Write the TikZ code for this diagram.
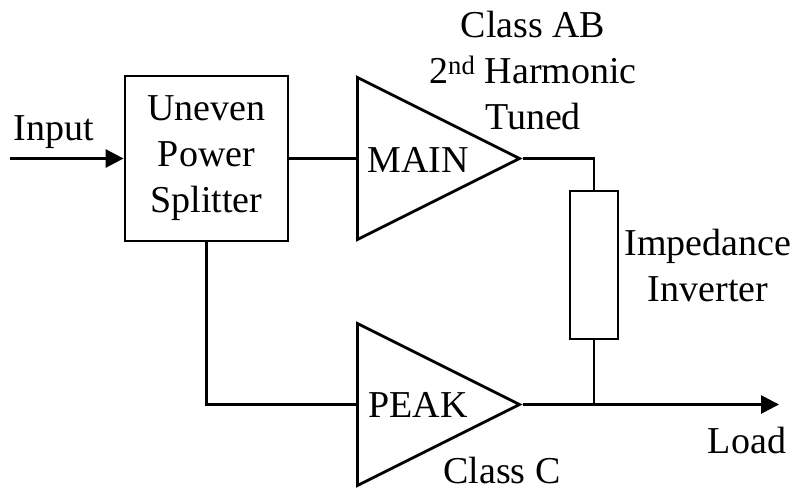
\documentclass[tikz,border=0pt]{standalone}
\usepackage{fontspec}
\setmainfont{Liberation Serif}
\usetikzlibrary{positioning, shapes.geometric, arrows.meta}

\begin{document}
\begin{tikzpicture}[
      x=1pt, y=-1pt,
      every node/.style={font=\fontsize{38}{46}\selectfont},
      box/.style={draw, line width=2.8pt, align=center, minimum width=163pt, minimum height=165pt, inner sep=0pt},
      amp/.style={draw, line width=2.8pt, isosceles triangle, isosceles triangle stretches, minimum width=162pt, minimum height=162pt, inner sep=0pt, anchor=west},
      inv/.style={draw, line width=2.8pt, minimum width=48pt, minimum height=148pt, inner sep=0pt},
      txt/.style={align=center, inner sep=0pt},
      line/.style={line width=2.8pt},
      arrow/.style={line width=2.8pt, -{Triangle[length=18pt, width=18pt]}}
    ]
    \useasboundingbox (0,0) rectangle (798,492);
    \node[box] (splitter) at (206.5,158.5) {Uneven \\ Power \\ Splitter};
    \node[amp] (main) at (356,158.5) {};
    \node[amp] (peak) at (356,404.5) {};
    \node[inv] (inverter) at (594,265) {};
    \coordinate (in) at (10,158.5);
    \coordinate (load) at (779,404.5);
    \node[txt] (inlabel) at (54,132) {Input};
    \node[txt] (mainlabel) at (418,160) {MAIN};
    \node[txt] (peaklabel) at (418,405) {PEAK};
    \node[txt] (mainclass) at (533,71) {Class AB \\ 2\textsuperscript{nd} Harmonic \\ Tuned};
    \node[txt] (peakclass) at (502,470) {Class C};
    \node[txt] (invlabel) at (708,266) {Impedance \\ Inverter};
    \node[txt] (loadlabel) at (747,440) {Load};
    \draw[arrow] (in) -- (splitter.west);
    \draw[line] (splitter.east) -- (main.west);
    \draw[line] (splitter.south) |- (peak.west);
    \draw[line] (main.apex) -| (inverter.north);
    \draw[line] (inverter.south) -- (inverter.south |- peak.apex);
    \draw[arrow] (peak.apex) -- (load);
  \end{tikzpicture}
\end{document}
